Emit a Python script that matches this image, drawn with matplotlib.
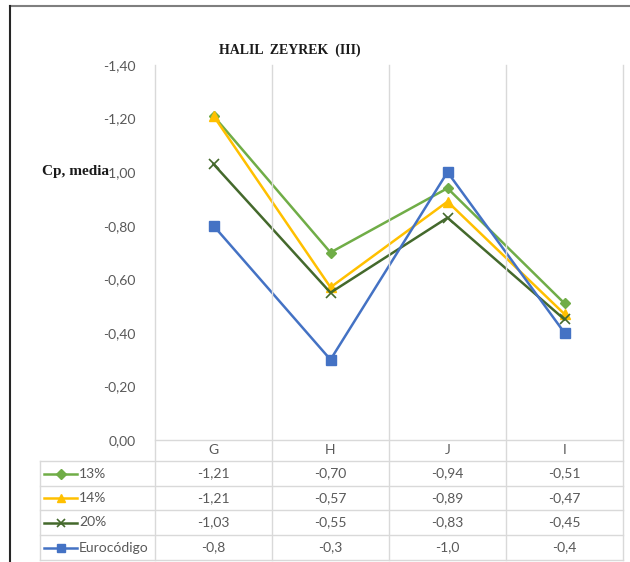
import matplotlib
matplotlib.use("Agg")
import matplotlib.pyplot as plt
from matplotlib.lines import Line2D
from matplotlib.transforms import blended_transform_factory

categories = ["G", "H", "J", "I"]
series_names = ["13%", "14%", "20%", "Eurocódigo"]
s13 = [-1.21, -0.70, -0.94, -0.51]
s14 = [-1.21, -0.57, -0.89, -0.47]
s20 = [-1.03, -0.55, -0.83, -0.45]
euro = [-0.8, -0.3, -1.0, -0.4]
table_text = [
    ["-1,21", "-0,70", "-0,94", "-0,51"],
    ["-1,21", "-0,57", "-0,89", "-0,47"],
    ["-1,03", "-0,55", "-0,83", "-0,45"],
    ["-0,8", "-0,3", "-1,0", "-0,4"],
]
y_ticks = [0.0, -0.2, -0.4, -0.6, -0.8, -1.0, -1.2, -1.4]

colors = ["#70AD47", "#FFC000", "#44692C", "#4472C4"]
markers = ["D", "^", "x", "s"]
msizes = [5.5, 7, 7, 6.5]
UI_FONT = "Lato"

W, H = 630, 562
fig = plt.figure(figsize=(W / 100, H / 100), dpi=100)

def fx(px):
    return px / W

def fy(py):
    return 1 - py / H

ax_left, ax_right, ax_top, ax_bottom = 155, 623, 65, 440
ax = fig.add_axes([fx(ax_left), fy(ax_bottom), fx(ax_right - ax_left), (ax_bottom - ax_top) / H])
ax.set_xlim(-0.5, len(categories) - 0.5)
ax.set_ylim(0, -1.4)
for sp in ax.spines.values():
    sp.set_visible(False)
ax.set_xticks([])
ax.set_yticks(y_ticks)
ax.set_yticklabels([f"{v:.2f}".replace(".", ",") for v in y_ticks],
                   fontsize=10, color="#595959", family=UI_FONT)
ax.tick_params(axis="y", length=0, pad=14)

grid_color = "#D9D9D9"
trans_x = blended_transform_factory(ax.transData, fig.transFigure)
table_bottom = 560
for xb in [i - 0.5 for i in range(len(categories) + 1)]:
    fig.add_artist(Line2D([xb, xb], [fy(ax_top), fy(table_bottom)], transform=trans_x,
                          color=grid_color, lw=1))

all_series = [s13, s14, s20, euro]
xs = list(range(len(categories)))
for vals, c, m, ms in zip(all_series, colors, markers, msizes):
    mew = 1.2 if m == "x" else 1
    ax.plot(xs, vals, color=c, lw=1.8, marker=m, markersize=ms,
            markerfacecolor=c, markeredgecolor=c, markeredgewidth=mew, clip_on=False)

# data table below the plot
row_lines = [440, 461, 486, 510, 535, 560]
table_left = 40
fig.add_artist(Line2D([-0.5, len(categories) - 0.5], [fy(row_lines[0])] * 2,
                      transform=trans_x, color=grid_color, lw=1))
for yl in row_lines[1:]:
    fig.add_artist(Line2D([fx(table_left), fx(ax_right)], [fy(yl)] * 2,
                          transform=fig.transFigure, color=grid_color, lw=1))
fig.add_artist(Line2D([fx(table_left)] * 2, [fy(row_lines[1]), fy(row_lines[-1])],
                      transform=fig.transFigure, color=grid_color, lw=1))

txt_kw = dict(fontsize=10, color="#595959", family=UI_FONT, va="center", ha="center")
hy = (row_lines[0] + row_lines[1]) / 2
for i, cat in enumerate(categories):
    fig.text(i, fy(hy), cat, transform=trans_x, **txt_kw)

for r, (name, c, m, ms) in enumerate(zip(series_names, colors, markers, msizes)):
    yc = (row_lines[r + 1] + row_lines[r + 2]) / 2
    fig.add_artist(Line2D([fx(44), fx(77)], [fy(yc)] * 2, transform=fig.transFigure,
                          color=c, lw=1.8))
    mew = 1.2 if m == "x" else 1
    fig.add_artist(Line2D([fx(60.5)], [fy(yc)], transform=fig.transFigure, color=c,
                          marker=m, markersize=ms * 0.85, markerfacecolor=c,
                          markeredgecolor=c, markeredgewidth=mew))
    fig.text(fx(79), fy(yc), name, fontsize=10, color="#595959", family=UI_FONT,
             va="center", ha="left")
    for i in range(len(categories)):
        fig.text(i, fy(yc), table_text[r][i], transform=trans_x, **txt_kw)

# title and axis label
fig.text(fx(290), fy(50), "HALIL  ZEYREK  (III)", fontsize=10, fontweight="bold",
         family="Liberation Serif", ha="center", va="center", color="#1a1a1a")
fig.text(fx(109), fy(172), "Cp, media", fontsize=11, fontweight="bold",
         family="Liberation Serif", ha="right", va="center", color="#1a1a1a",
         zorder=5, bbox=dict(facecolor="white", edgecolor="none", pad=0.3))

# outer frame
fig.add_artist(Line2D([fx(10), 1], [fy(6), fy(6)], transform=fig.transFigure,
                      color="#7f7f7f", lw=1.5))
fig.add_artist(Line2D([fx(10), fx(10)], [fy(6), 0], transform=fig.transFigure,
                      color="#262626", lw=1.5))

fig.savefig("out.png", dpi=100)
